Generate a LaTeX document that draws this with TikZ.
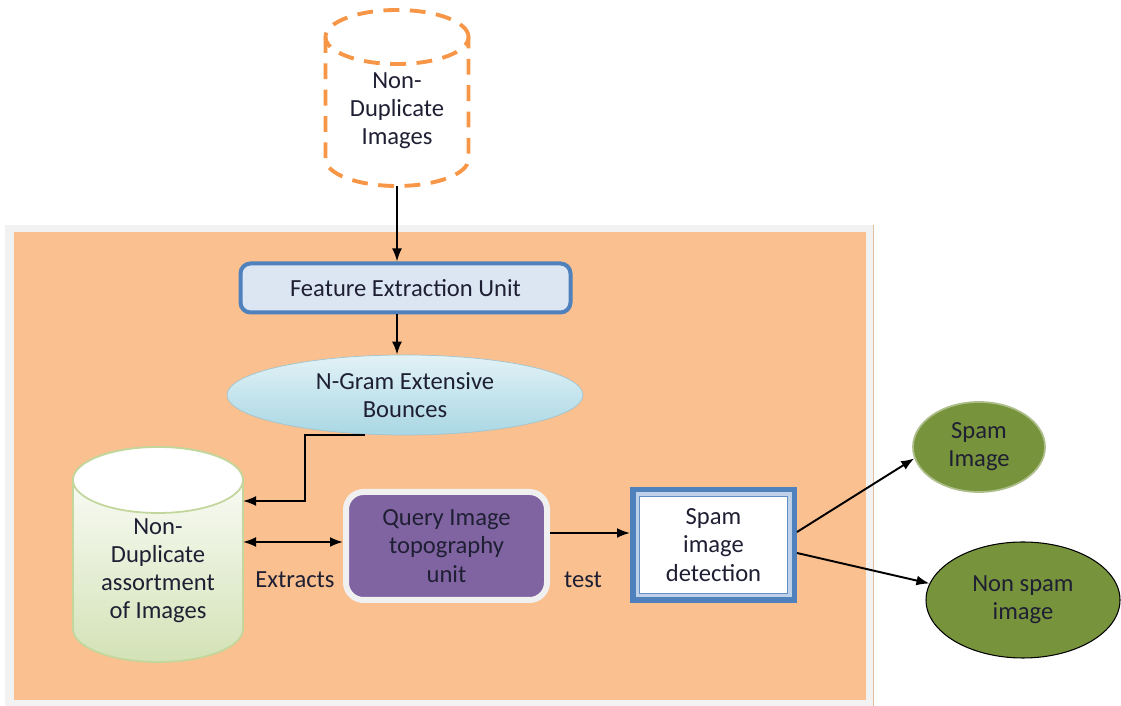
\documentclass[tikz,border=0pt]{standalone}
\usepackage{fontspec}
\setmainfont{Carlito}
\usetikzlibrary{arrows.meta,shapes.geometric,positioning,calc}
\tikzset{every picture/.style={line width=0.75pt}}
\definecolor{peach}{HTML}{FAC08F}
\definecolor{framegray}{HTML}{F2F2F2}
\definecolor{dashorange}{HTML}{F79646}
\definecolor{boxblue}{HTML}{4F81BD}
\definecolor{paleblue}{HTML}{DCE6F2}
\definecolor{bandblue}{HTML}{BFD1E8}
\definecolor{cyanlight}{HTML}{E2F2F6}
\definecolor{cyandark}{HTML}{A9D7E4}
\definecolor{palegreen}{HTML}{D3E2B6}
\definecolor{rimgreen}{HTML}{C3D69B}
\definecolor{queryviolet}{HTML}{8064A2}
\definecolor{olive}{HTML}{77933C}
\definecolor{inkdark}{HTML}{1F1F33}

\tikzset{
  lbl/.style={font=\fontsize{14}{16}\selectfont, text=inkdark, align=center},
  arr/.style={-{Latex[length=2.6mm,width=2mm]}, line width=1.1pt},
  dblarr/.style={{Latex[length=2.6mm,width=2mm]}-{Latex[length=2.6mm,width=2mm]}, line width=1.1pt},
  dashrim/.style={draw=dashorange, line width=2.2pt, dash pattern=on 9pt off 6pt},
}

\begin{document}
\begin{tikzpicture}
    \useasboundingbox (0,0) rectangle (22.42,14.12);

    % Module frame
    \fill[framegray] (0.10,0) rectangle (17.46,9.62);
    \fill[peach] (0.28,0.12) rectangle (17.32,9.48);
    \draw[brown!50, line width=0.5pt] (17.46,0) -- (17.46,9.62);

    % Input store (dashed cylinder)
    \draw[dashrim] (6.51,13.38) -- (6.51,10.94) arc (180:360:1.43 and 0.54) -- (9.37,13.38);
    \draw[dashrim] (7.94,13.38) ellipse (1.43 and 0.54);
    \node[lbl] (src) at (7.94,11.90) {Non-\\Duplicate\\Images};
    \coordinate (srcbase) at (7.94,10.40);

    % Feature extraction and n-gram
    \node[lbl, rectangle, rounded corners=0.2cm, fill=paleblue, draw=boxblue,
          line width=0.08cm, minimum width=6.6cm, minimum height=0.98cm]
          (feat) at (8.11,8.36) {Feature Extraction Unit};
    \node[lbl, ellipse, top color=cyanlight, bottom color=cyandark, draw=cyandark!80!gray,
          line width=0.4pt, minimum width=7.12cm, minimum height=1.6cm, inner sep=0pt]
          (ngram) at (8.10,6.22) {N-Gram Extensive\\Bounces};

    % Image store (cylinder)
    \draw[rimgreen, line width=1pt, top color=white, bottom color=palegreen]
        (1.46,4.52) -- (1.46,1.54) arc (180:360:1.70 and 0.66) -- (4.86,4.52)
        arc (0:180:1.70 and 0.66) -- cycle;
    \draw[rimgreen, line width=1pt, fill=white] (3.16,4.52) ellipse (1.70 and 0.66);
    \node[lbl] (store) at (3.16,2.70) {Non-\\Duplicate\\assortment\\of Images};

    % Query and detection
    \node[lbl, rectangle, rounded corners=0.35cm, fill=queryviolet, draw=white!94!black,
          line width=0.12cm, minimum width=4.02cm, minimum height=2.16cm]
          (query) at (8.93,3.20) {Query Image\\topography\\unit};
    \node[lbl, rectangle, fill=bandblue, draw=boxblue, line width=0.11cm,
          minimum width=3.23cm, minimum height=2.21cm,
          path picture={\draw[boxblue!90, line width=0.8pt, fill=white]
            ([shift={(0.13,0.13)}]path picture bounding box.south west) rectangle
            ([shift={(-0.13,-0.13)}]path picture bounding box.north east);}]
          (detect) at (14.27,3.22) {Spam\\image\\detection};

    % Outcomes
    \node[lbl, ellipse, fill=olive, draw=olive!60!white, line width=1pt,
          minimum width=2.64cm, minimum height=1.8cm]
          (spam) at (19.58,5.18) {Spam\\Image};
    \node[lbl, ellipse, fill=olive, draw=black, line width=0.6pt,
          minimum width=3.88cm, minimum height=2.32cm]
          (nonspam) at (20.46,2.12) {Non spam\\image};

    % Connectors
    \draw[arr] (srcbase) -- (srcbase |- feat.north);
    \draw[arr] (srcbase |- feat.south) -- (srcbase |- ngram.north);
    \draw[arr] ([xshift=-0.8cm]ngram.south) -- ++(-1.2,0) |- ($(store.center)+(1.7,1.40)$);
    \draw[dblarr] ($(store.center)+(1.7,0.58)$) -- ($(query.west)+(0,0.08)$);
    \draw[arr] ($(query.east)+(0,0.26)$) -- ($(detect.west)+(0,0.24)$);
    \draw[arr] ($(detect.east)+(0,0.26)$) -- (spam.190);
    \draw[arr] ($(detect.east)+(0,-0.16)$) -- (nonspam.170);

    % Edge labels
    \node[lbl] (extracts) at (5.90,2.52) {Extracts};
    \node[lbl] (testlbl) at (11.66,2.52) {test};
\end{tikzpicture}
\end{document}
